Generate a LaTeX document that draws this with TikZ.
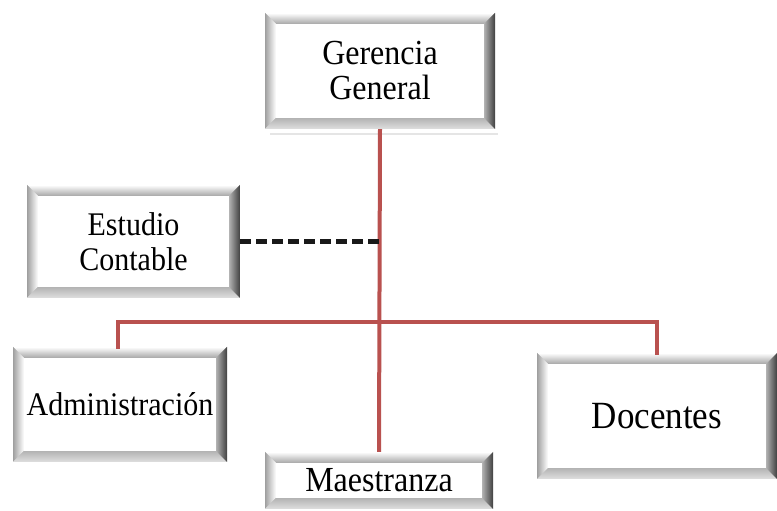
\documentclass[tikz,border=0pt]{standalone}
\usepackage{fontspec}
\setmainfont{Liberation Serif}
\usetikzlibrary{calc}
\definecolor{orgred}{HTML}{B9514F}
\tikzset{
  bev/.style={rectangle, inner sep=0pt, align=center, font=\fontsize{30}{35}\selectfont,
    path picture={
      \coordinate (sw) at (path picture bounding box.south west);
      \coordinate (ne) at (path picture bounding box.north east);
      \coordinate (nw) at (sw|-ne);
      \coordinate (se) at (ne|-sw);
      \fill[gray!45] (sw) rectangle (ne);
      \shade[top color=white, bottom color=gray!70] (nw) -- (ne) -- ($(ne)+(-11,-11)$) -- ($(nw)+(11,-11)$) -- cycle;
      \shade[left color=gray!75, right color=white] (nw) -- ($(nw)+(11,-11)$) -- ($(sw)+(11,11)$) -- (sw) -- cycle;
      \shade[top color=gray!60, bottom color=gray!25] (sw) -- ($(sw)+(11,11)$) -- ($(se)+(-11,11)$) -- (se) -- cycle;
      \shade[left color=gray!60, right color=black!75] (ne) -- ($(ne)+(-11,-11)$) -- ($(se)+(-11,11)$) -- (se) -- cycle;
      \fill[white] ($(sw)+(11,11)$) rectangle ($(ne)+(-11,-11)$);
    }},
  link/.style={orgred, line width=4pt},
  dash link/.style={black!90, line width=4.5pt, dash pattern=on 11pt off 5pt}
}
\newcommand{\tall}[1]{\scalebox{1}[1.1]{#1}}
\begin{document}
\begin{tikzpicture}[x=1pt, y=1pt]
\useasboundingbox (0,0) rectangle (777,511);
\fill[gray!20] (270,376) rectangle (498,378);
\node[bev, minimum width=230pt, minimum height=116pt, font=\fontsize{32}{35}\selectfont] (ger) at (380,440) {\tall{Gerencia}\\\tall{General}};
\node[bev, minimum width=213pt, minimum height=113pt] (est) at (133.5,269.5) {\tall{Estudio}\\\tall{Contable}};
\node[bev, minimum width=214pt, minimum height=115pt] (adm) at (120,106.5) {\tall{Administración}};
\node[bev, minimum width=228pt, minimum height=57pt, font=\fontsize{32}{35}\selectfont] (mae) at (379,30.5) {\tall{Maestranza}};
\node[bev, minimum width=240pt, minimum height=126pt, font=\fontsize{35}{38}\selectfont] (doc) at (657,95) {\tall{Docentes}};
\coordinate (hub) at (ger.south |- 0,189);
\coordinate (dj) at (ger.south |- est.east);
\draw[link] (ger.south) -- (mae.north);
\draw[link, line cap=rect] (adm.north -| 118,0) |- (hub) -| (doc.north -| 657,0);
\draw[dash link] (est.east) -- (dj);
\end{tikzpicture}
\end{document}
